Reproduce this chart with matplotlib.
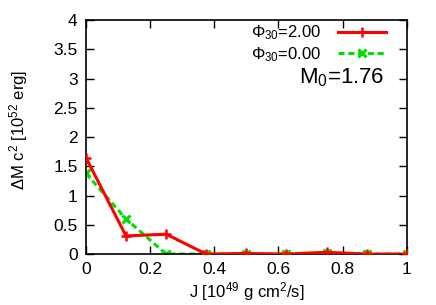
import matplotlib
matplotlib.use('Agg')
import matplotlib.pyplot as plt

plt.rcParams['font.family'] = ['Liberation Sans', 'DejaVu Sans']
plt.rcParams['mathtext.fontset'] = 'custom'
plt.rcParams['mathtext.rm'] = 'Liberation Sans'
plt.rcParams['mathtext.it'] = 'Liberation Sans'

# data
J = [0.0, 0.125, 0.25, 0.375, 0.5, 0.625, 0.75, 0.875, 1.0]
dM_phi2 = [1.65, 0.31, 0.34, 0.0, 0.01, 0.0, 0.03, 0.0, 0.0]
dM_phi0 = [1.38, 0.60, 0.0, 0.0, 0.0, 0.0, 0.02, 0.0, 0.0]
xticks = [0, 0.2, 0.4, 0.6, 0.8, 1]
yticks = [0, 0.5, 1, 1.5, 2, 2.5, 3, 3.5, 4]

fig = plt.figure(figsize=(4.36, 3.05), dpi=100)
ax = fig.add_axes([0.197, 0.167, 0.736, 0.767])

ax.plot(J, dM_phi2, color='#ff0000', lw=2.2, marker='+', ms=7, mew=1.8,
        label=r'$\Phi_{30}$=2.00', zorder=3)
ax.plot(J, dM_phi0, color='#00e000', lw=2.2, ls=(0, (2, 1.2)), marker='x', ms=6,
        mew=2.2, label=r'$\Phi_{30}$=0.00', zorder=2)

ax.set_xlim(0, 1)
ax.set_ylim(0, 4)
ax.set_xticks(xticks)
ax.set_xticklabels(['0', '0.2', '0.4', '0.6', '0.8', '1'])
ax.set_yticks(yticks)
ax.set_yticklabels(['0', '0.5', '1', '1.5', '2', '2.5', '3', '3.5', '4'])
ax.tick_params(direction='in', top=True, right=True, length=6, width=1,
               labelsize=12.5, pad=6)
for s in ax.spines.values():
    s.set_linewidth(1.2)

ax.set_xlabel(r'J [10$^{49}$ g cm$^{2}$/s]', fontsize=12)
ax.set_ylabel(r'$\Delta$M c$^{2}$ [10$^{52}$ erg]', fontsize=12)
ax.xaxis.set_label_coords(0.5, -0.11)
ax.yaxis.set_label_coords(-0.174, 0.53)

leg = ax.legend(loc='upper right', bbox_to_anchor=(0.935, 0.985), markerfirst=False,
                frameon=False, fontsize=12, handlelength=2.9, handletextpad=1.0,
                labelspacing=0.15, borderaxespad=0.0, borderpad=0.0)
ax.text(0.93, 0.756, r'M$_0$=1.76', transform=ax.transAxes, ha='right',
        va='center', fontsize=16)

fig.savefig('out.png', dpi=100)
